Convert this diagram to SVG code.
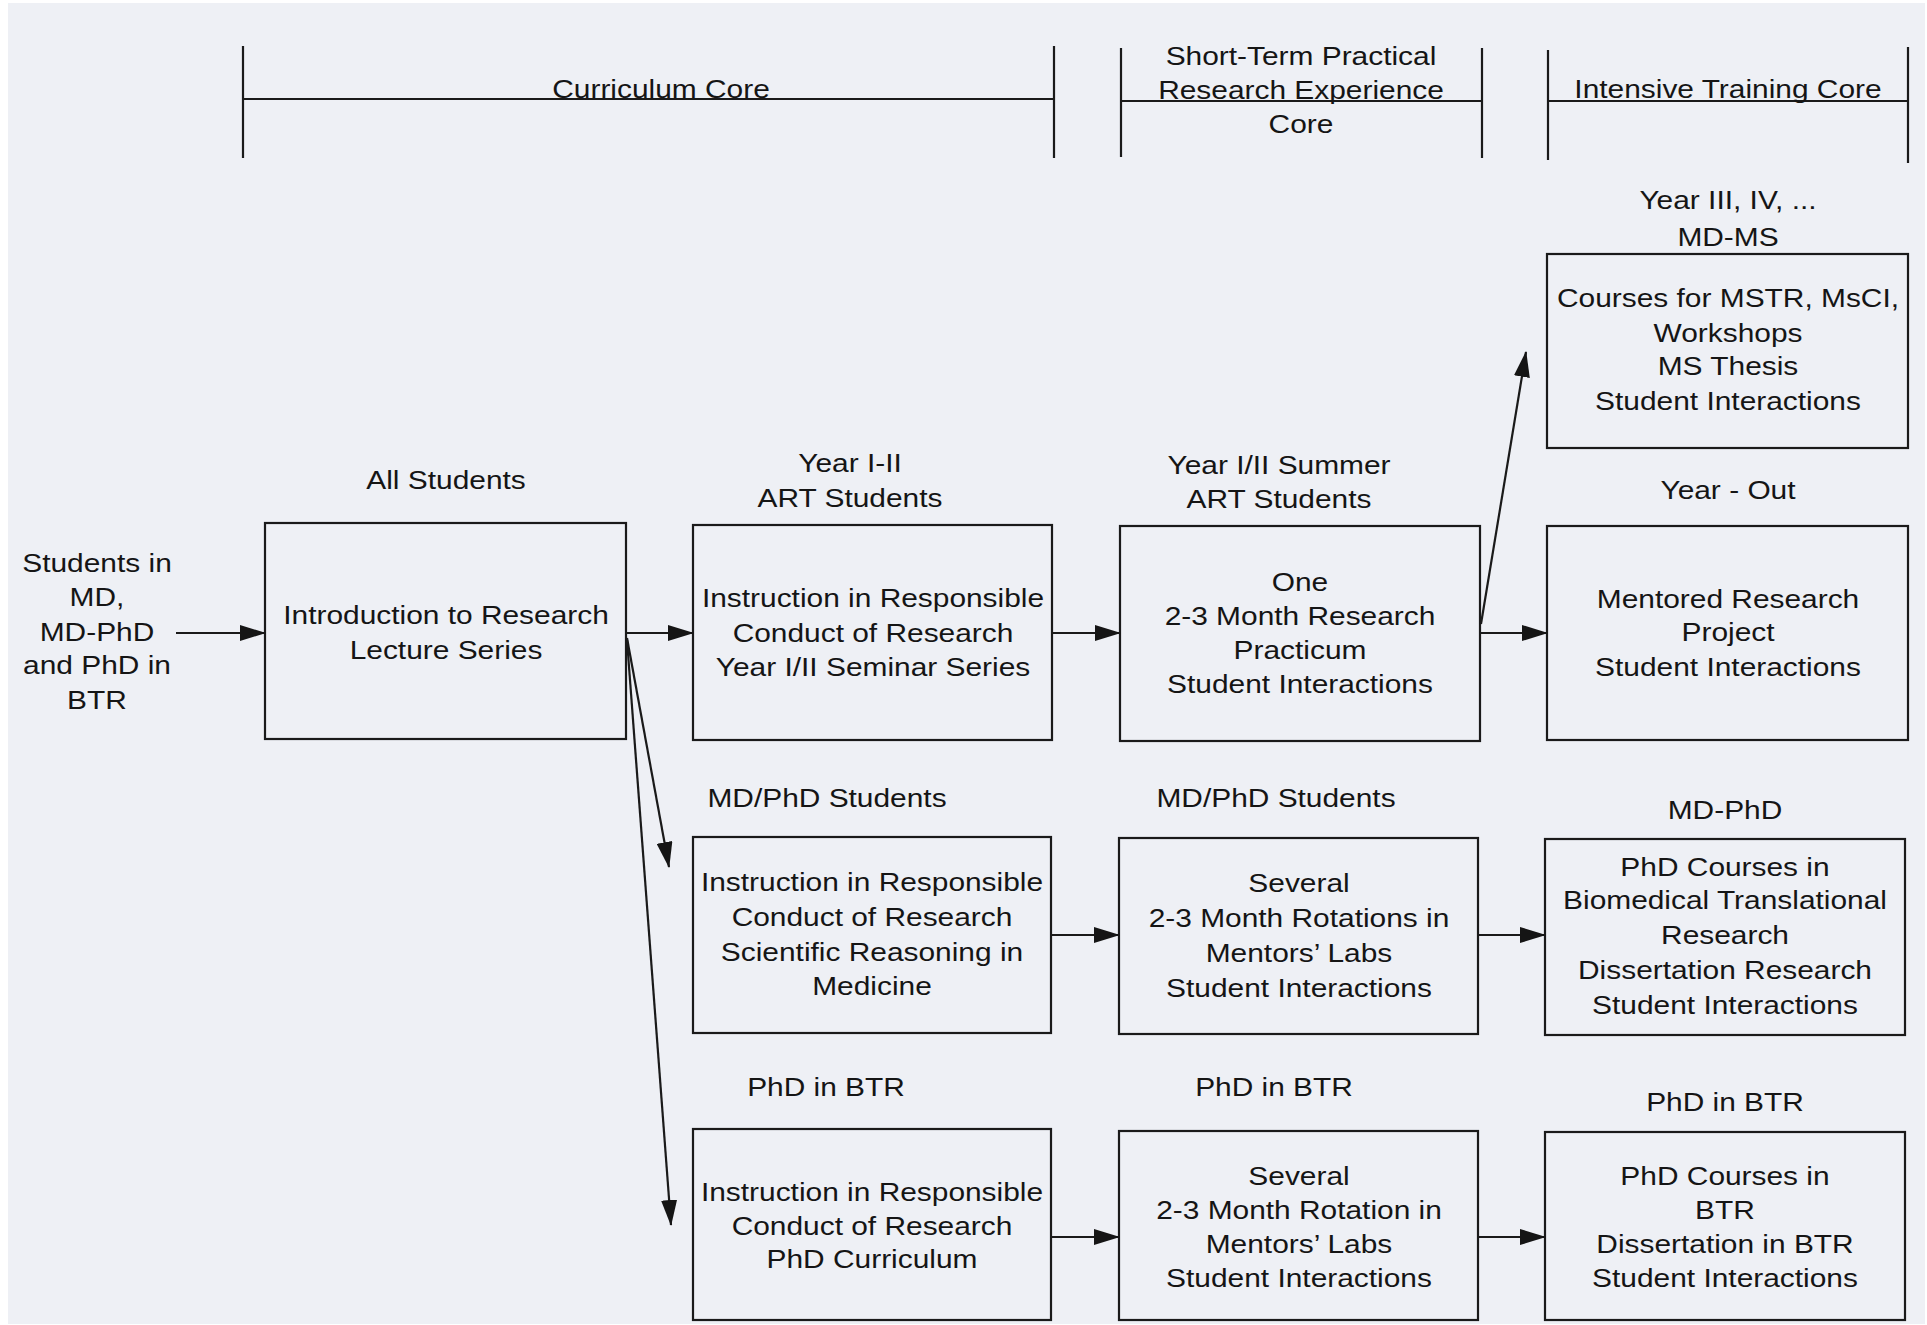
<svg xmlns="http://www.w3.org/2000/svg" width="1927" height="1325" viewBox="0 0 1927 1325">
<defs>
<style>
.box{fill:none;stroke:#1a1a1a;stroke-width:2.2}
.ln{fill:none;stroke:#1a1a1a;stroke-width:2.2}
.t{font-family:"Liberation Sans",Arial,sans-serif;font-size:26px;fill:#151515;text-anchor:middle}
</style>
<marker id="ah" markerUnits="userSpaceOnUse" markerWidth="26" markerHeight="16" refX="25" refY="8" orient="auto">
<path d="M0,0 L26,8 L0,16 z" fill="#151515"/>
</marker>
</defs>
<rect x="0" y="0" width="1927" height="1325" fill="#ffffff"/>
<rect x="8" y="3" width="1917" height="1321" fill="#eef0f5"/>

<g id="header-curriculum">
<path class="ln" d="M243,46 V158 M1054,46 V158 M243,99 H1054"/>
<text class="t" transform="translate(661 0) scale(1.15 1)"><tspan x="0" y="98">Curriculum Core</tspan></text>
</g>
<g id="header-shortterm">
<path class="ln" d="M1121,48 V157 M1482,48 V158 M1121,101 H1482"/>
<text class="t" transform="translate(1301 0) scale(1.15 1)"><tspan x="0" y="65">Short-Term Practical</tspan><tspan x="0" y="99">Research Experience</tspan><tspan x="0" y="133">Core</tspan></text>
</g>
<g id="header-intensive">
<path class="ln" d="M1548,50 V160 M1908,47 V163 M1548,101 H1908"/>
<text class="t" transform="translate(1728 0) scale(1.15 1)"><tspan x="0" y="98">Intensive Training Core</tspan></text>
</g>

<g id="students">
<text class="t" transform="translate(97 0) scale(1.15 1)"><tspan x="0" y="572">Students in</tspan><tspan x="0" y="606">MD,</tspan><tspan x="0" y="641">MD-PhD</tspan><tspan x="0" y="674">and PhD in</tspan><tspan x="0" y="709">BTR</tspan></text>
</g>

<g id="intro">
<text class="t" transform="translate(446 0) scale(1.15 1)"><tspan x="0" y="489">All Students</tspan></text>
<rect class="box" x="265" y="523" width="361" height="216"/>
<text class="t" transform="translate(446 0) scale(1.15 1)"><tspan x="0" y="624">Introduction to Research</tspan><tspan x="0" y="659">Lecture Series</tspan></text>
</g>

<g id="r1c1">
<text class="t" transform="translate(850 0) scale(1.15 1)"><tspan x="0" y="472">Year I-II</tspan><tspan x="0" y="507">ART Students</tspan></text>
<rect class="box" x="693" y="525" width="359" height="215"/>
<text class="t" transform="translate(873 0) scale(1.15 1)"><tspan x="0" y="607">Instruction in Responsible</tspan><tspan x="0" y="642">Conduct of Research</tspan><tspan x="0" y="676">Year I/II Seminar Series</tspan></text>
</g>

<g id="r1c2">
<text class="t" transform="translate(1279 0) scale(1.15 1)"><tspan x="0" y="474">Year I/II Summer</tspan><tspan x="0" y="508">ART Students</tspan></text>
<rect class="box" x="1120" y="526" width="360" height="215"/>
<text class="t" transform="translate(1300 0) scale(1.15 1)"><tspan x="0" y="591">One</tspan><tspan x="0" y="625">2-3 Month Research</tspan><tspan x="0" y="659">Practicum</tspan><tspan x="0" y="693">Student Interactions</tspan></text>
</g>

<g id="mdms">
<text class="t" transform="translate(1728 0) scale(1.15 1)"><tspan x="0" y="209">Year III, IV, ...</tspan><tspan x="0" y="246">MD-MS</tspan></text>
<rect class="box" x="1547" y="254" width="361" height="194"/>
<text class="t" transform="translate(1728 0) scale(1.15 1)"><tspan x="0" y="307">Courses for MSTR, MsCI,</tspan><tspan x="0" y="342">Workshops</tspan><tspan x="0" y="375">MS Thesis</tspan><tspan x="0" y="410">Student Interactions</tspan></text>
</g>

<g id="yearout">
<text class="t" transform="translate(1728 0) scale(1.15 1)"><tspan x="0" y="499">Year - Out</tspan></text>
<rect class="box" x="1547" y="526" width="361" height="214"/>
<text class="t" transform="translate(1728 0) scale(1.15 1)"><tspan x="0" y="608">Mentored Research</tspan><tspan x="0" y="641">Project</tspan><tspan x="0" y="676">Student Interactions</tspan></text>
</g>

<g id="r2c1">
<text class="t" transform="translate(827 0) scale(1.15 1)"><tspan x="0" y="807">MD/PhD Students</tspan></text>
<rect class="box" x="693" y="837" width="358" height="196"/>
<text class="t" transform="translate(872 0) scale(1.15 1)"><tspan x="0" y="891">Instruction in Responsible</tspan><tspan x="0" y="926">Conduct of Research</tspan><tspan x="0" y="961">Scientific Reasoning in</tspan><tspan x="0" y="995">Medicine</tspan></text>
</g>

<g id="r2c2">
<text class="t" transform="translate(1276 0) scale(1.15 1)"><tspan x="0" y="807">MD/PhD Students</tspan></text>
<rect class="box" x="1119" y="838" width="359" height="196"/>
<text class="t" transform="translate(1299 0) scale(1.15 1)"><tspan x="0" y="892">Several</tspan><tspan x="0" y="927">2-3 Month Rotations in</tspan><tspan x="0" y="962">Mentors’ Labs</tspan><tspan x="0" y="997">Student Interactions</tspan></text>
</g>

<g id="r2c3">
<text class="t" transform="translate(1725 0) scale(1.15 1)"><tspan x="0" y="819">MD-PhD</tspan></text>
<rect class="box" x="1545" y="839" width="360" height="196"/>
<text class="t" transform="translate(1725 0) scale(1.15 1)"><tspan x="0" y="876">PhD Courses in</tspan><tspan x="0" y="909">Biomedical Translational</tspan><tspan x="0" y="944">Research</tspan><tspan x="0" y="979">Dissertation Research</tspan><tspan x="0" y="1014">Student Interactions</tspan></text>
</g>

<g id="r3c1">
<text class="t" transform="translate(826 0) scale(1.15 1)"><tspan x="0" y="1096">PhD in BTR</tspan></text>
<rect class="box" x="693" y="1129" width="358" height="191"/>
<text class="t" transform="translate(872 0) scale(1.15 1)"><tspan x="0" y="1201">Instruction in Responsible</tspan><tspan x="0" y="1235">Conduct of Research</tspan><tspan x="0" y="1268">PhD Curriculum</tspan></text>
</g>

<g id="r3c2">
<text class="t" transform="translate(1274 0) scale(1.15 1)"><tspan x="0" y="1096">PhD in BTR</tspan></text>
<rect class="box" x="1119" y="1131" width="359" height="189"/>
<text class="t" transform="translate(1299 0) scale(1.15 1)"><tspan x="0" y="1185">Several</tspan><tspan x="0" y="1219">2-3 Month Rotation in</tspan><tspan x="0" y="1253">Mentors’ Labs</tspan><tspan x="0" y="1287">Student Interactions</tspan></text>
</g>

<g id="r3c3">
<text class="t" transform="translate(1725 0) scale(1.15 1)"><tspan x="0" y="1111">PhD in BTR</tspan></text>
<rect class="box" x="1545" y="1132" width="360" height="188"/>
<text class="t" transform="translate(1725 0) scale(1.15 1)"><tspan x="0" y="1185">PhD Courses in</tspan><tspan x="0" y="1219">BTR</tspan><tspan x="0" y="1253">Dissertation in BTR</tspan><tspan x="0" y="1287">Student Interactions</tspan></text>
</g>

<g id="connectors" class="ln">
<line x1="176" y1="633" x2="265" y2="633" marker-end="url(#ah)"/>
<line x1="626" y1="633" x2="693" y2="633" marker-end="url(#ah)"/>
<line x1="627" y1="638" x2="669" y2="867" marker-end="url(#ah)"/>
<line x1="627" y1="640" x2="671" y2="1225" marker-end="url(#ah)"/>
<line x1="1052" y1="633" x2="1120" y2="633" marker-end="url(#ah)"/>
<line x1="1480" y1="633" x2="1547" y2="633" marker-end="url(#ah)"/>
<line x1="1481" y1="624" x2="1526" y2="352" marker-end="url(#ah)"/>
<line x1="1051" y1="935" x2="1119" y2="935" marker-end="url(#ah)"/>
<line x1="1478" y1="935" x2="1545" y2="935" marker-end="url(#ah)"/>
<line x1="1051" y1="1237" x2="1119" y2="1237" marker-end="url(#ah)"/>
<line x1="1478" y1="1237" x2="1545" y2="1237" marker-end="url(#ah)"/>
</g>
</svg>
